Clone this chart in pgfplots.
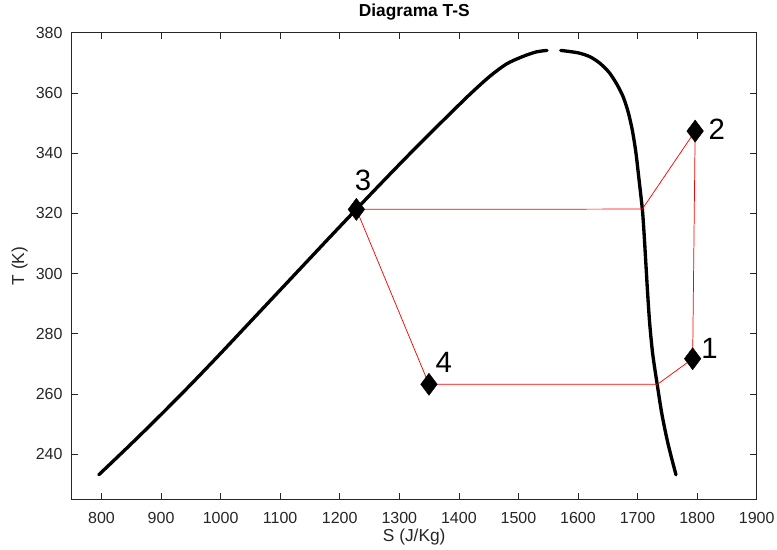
\documentclass[border=0pt]{standalone}
\usepackage{fontspec}
\setmainfont{Liberation Sans}
\usepackage{pgfplots}
\pgfplotsset{compat=1.18}
\definecolor{axgray}{rgb}{0.15,0.15,0.15}
\begin{document}
\begin{tikzpicture}
\useasboundingbox (-53.8pt,-37.3pt) rectangle (529pt,374.5pt);
\begin{axis}[
  at={(0,0)}, anchor=south west,
  width=513.75pt, height=350pt, scale only axis,
  xmin=750, xmax=1900, ymin=225, ymax=380,
  xtick={800,900,...,1900}, ytick={240,260,...,380},
  tick align=inside, tick pos=both, major tick length=5pt,
  axis line style={axgray, line width=0.4pt},
  every tick/.style={axgray, line width=0.4pt},
  tick label style={font=\fontsize{12}{14}\selectfont, text=axgray},
  /pgf/number format/assume math mode=true,
  /pgf/number format/1000 sep={},
  xticklabel style={inner sep=0pt, anchor=north, yshift=-9.75pt},
  yticklabel style={inner sep=0pt, anchor=east, xshift=-6.75pt},
  title={Diagrama T-S},
  title style={at={(axis description cs:0.5,1.01657)}, anchor=base, inner sep=0pt,
    font=\fontsize{13}{15}\selectfont\bfseries, text=black},
  xlabel={S (J/Kg)},
  xlabel style={at={(axis description cs:0.5,-0.0809)}, anchor=center, inner sep=0pt,
    font=\fontsize{13}{15}\selectfont, text=axgray},
  ylabel={T (K)},
  ylabel style={at={(axis description cs:-0.0759,0.5)}, anchor=center, inner sep=0pt,
    font=\fontsize{13}{15}\selectfont, text=axgray},
]
% saturated liquid line
\addplot[black, line width=2.5pt, line join=round, line cap=round, smooth, tension=0.5] coordinates {
(795.5,233.15) (848.5,243.15) (900,253.15) (950,263.15) (998.5,273.15)
(1046,283.15) (1093.5,293.15) (1141,303.15) (1188.5,313.15) (1236.5,323.15)
(1285,333.15) (1334.5,343.15) (1385.5,353.15) (1420,359.8) (1452,365.5)
(1480,369.6) (1507.6,372.1) (1530,373.6) (1548,374.1)
};
% saturated vapour line
\addplot[black, line width=2.5pt, line join=round, line cap=round, smooth, tension=0.5] coordinates {
(1571,374.1) (1600,373.3) (1620,372.0) (1637,369.8) (1653,366.6)
(1666,362.6) (1676,358.6) (1684,353.8) (1691,347.8) (1697,340.5)
(1702,332) (1708,321.4) (1711,313.15) (1714,303.15) (1717,293.15) (1720.5,283.15)
(1725.5,273.15) (1733,263.15) (1741,253.15) (1751.5,243.15) (1764.5,233.15)
};
% cycle state points
\addplot[only marks, mark=diamond*, mark size=8.3pt, black, mark options={line width=0.3pt}] coordinates {
(1792.5,271.7) (1796.7,347.3) (1227.9,321.3) (1349.8,263.2)
};
% cycle path
\addplot[red, line width=0.55pt] coordinates {
(1792.5,271.7) (1796.7,347.3) (1708,321.4) (1227.9,321.3) (1349.8,263.2) (1733.5,263.2) (1792.5,271.7)
};
\node[font=\fontsize{22}{24}\selectfont, inner sep=0pt, text=black] at (axis cs:1821,275) {1};
\node[font=\fontsize{22}{24}\selectfont, inner sep=0pt, text=black] at (axis cs:1833,348) {2};
\node[font=\fontsize{22}{24}\selectfont, inner sep=0pt, text=black] at (axis cs:1239,330.9) {3};
\node[font=\fontsize{22}{24}\selectfont, inner sep=0pt, text=black] at (axis cs:1374.5,270.4) {4};
\end{axis}
\end{tikzpicture}
\end{document}
